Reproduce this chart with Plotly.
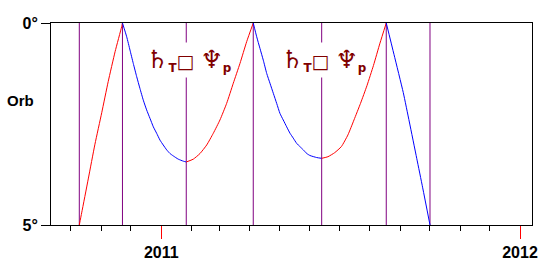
import plotly.graph_objects as go

# ---- data (orb in degrees vs date) ----
# red = applying, blue = separating
seg1_dates = ["2010-10-09 14:00", "2010-10-12", "2010-10-18 17:00", "2010-10-25 12:00",
              "2010-11-01 10:00", "2010-11-08", "2010-11-15", "2010-11-21 17:00", "2010-11-22 12:00"]
seg1_orb = [5.0, 4.70, 3.86, 3.00, 2.22, 1.45, 0.71, 0.09, 0.0]

seg2_dates = ["2010-11-22 12:00", "2010-11-26 19:00", "2010-11-30 04:00", "2010-12-03 12:00",
              "2010-12-07", "2010-12-10 07:00", "2010-12-13 17:00", "2010-12-17 02:00",
              "2010-12-20 12:00", "2010-12-23 22:00", "2010-12-27 07:00", "2010-12-30 17:00",
              "2011-01-03", "2011-01-06 12:00", "2011-01-09 20:00", "2011-01-13 05:00",
              "2011-01-18 07:00", "2011-01-23 10:00", "2011-01-26 10:00"]
seg2_orb = [0.0, 0.34, 0.67, 1.00, 1.33, 1.62, 1.91, 2.15, 2.36, 2.57, 2.73, 2.90,
            3.02, 3.14, 3.23, 3.29, 3.37, 3.42, 3.44]

seg3_dates = ["2011-01-26 10:00", "2011-02-02 14:00", "2011-02-09 10:00", "2011-02-16 05:00",
              "2011-02-22 22:00", "2011-03-01 17:00", "2011-03-08 12:00", "2011-03-15 07:00",
              "2011-03-22 02:00", "2011-03-28 22:00", "2011-04-04 14:00"]
seg3_orb = [3.44, 3.37, 3.23, 3.02, 2.73, 2.40, 1.99, 1.49, 1.00, 0.46, 0.0]

seg4_dates = ["2011-04-04 14:00", "2011-04-08 02:00", "2011-04-11 10:00", "2011-04-14 19:00",
              "2011-04-18 07:00", "2011-04-21 14:00", "2011-04-25", "2011-04-28 10:00",
              "2011-05-01 19:00", "2011-05-05 02:00", "2011-05-08 14:00", "2011-05-12",
              "2011-05-15 07:00", "2011-05-18 19:00", "2011-05-22 02:00", "2011-05-25 12:00",
              "2011-05-29", "2011-06-01 07:00", "2011-06-08 02:00", "2011-06-13 05:00"]
seg4_orb = [0.0, 0.34, 0.63, 0.92, 1.25, 1.49, 1.74, 1.99, 2.24, 2.40, 2.57, 2.73,
            2.85, 2.98, 3.06, 3.14, 3.23, 3.28, 3.33, 3.35]

seg5_dates = ["2011-06-13 05:00", "2011-06-19 14:00", "2011-06-26 10:00", "2011-07-03 05:00",
              "2011-07-09 22:00", "2011-07-16 02:00", "2011-07-22 17:00", "2011-07-29 07:00",
              "2011-08-04 22:00", "2011-08-11 12:00", "2011-08-17 22:00"]
seg5_orb = [3.35, 3.31, 3.21, 3.06, 2.77, 2.40, 1.99, 1.55, 1.05, 0.50, 0.0]

seg6_dates = ["2011-08-17 22:00", "2011-08-25 19:00", "2011-09-04 05:00", "2011-09-10 10:00",
              "2011-09-17 22:00", "2011-09-24", "2011-10-01 10:00"]
seg6_orb = [0.0, 0.78, 1.72, 2.45, 3.35, 4.08, 5.0]

segments = [(seg1_dates, seg1_orb, "red"), (seg2_dates, seg2_orb, "blue"),
            (seg3_dates, seg3_orb, "red"), (seg4_dates, seg4_orb, "blue"),
            (seg5_dates, seg5_orb, "red"), (seg6_dates, seg6_orb, "blue")]

# event dates (orb entry, exact, stations, exit)
event_dates = ["2010-10-09 14:00", "2010-11-22 12:00", "2011-01-26 10:00", "2011-04-04 14:00",
               "2011-06-13 05:00", "2011-08-17 22:00", "2011-10-01 10:00"]

# aspect labels at the stations
label_dates = ["2011-01-26 10:00", "2011-06-13 05:00"]
label_orb = [0.92, 0.92]
label_text = ("<span style='font-size:25px'>♄</span><sub>T</sub>"
              "<span style='font-size:19px'>□</span> "
              "<span style='font-size:25px'>♆</span><sub>p</sub>")

x_range = ["2010-09-10 19:00", "2012-01-13 05:00"]
y_tick_vals = [0, 5]
y_tick_text = ["0°", "5°"]
y_title = "Orb"

FONT = "Liberation Sans, Arial, sans-serif"

fig = go.Figure()
for d in event_dates:
    fig.add_shape(type="line", xref="x", yref="paper", x0=d, x1=d, y0=0, y1=1,
                  line=dict(color="#800080", width=1), layer="below")

for dates, orb, col in segments:
    fig.add_trace(go.Scatter(x=dates, y=orb, mode="lines",
                             line=dict(color=col, width=1, shape="spline", smoothing=0.5),
                             hoverinfo="skip"))

for d, o in zip(label_dates, label_orb):
    fig.add_annotation(x=d, y=o, xref="x", yref="y", text="<b>" + label_text + "</b>",
                       showarrow=False, bgcolor="white", xshift=2, borderpad=2,
                       font=dict(family="DejaVu Sans", size=17, color="#800000"))

fig.add_annotation(x=0, y=1.93, xref="paper", yref="y", text="<b>" + y_title + "</b>",
                   showarrow=False, xanchor="right", xshift=-15,
                   font=dict(family=FONT, size=15, color="black"))

fig.update_layout(
    width=545, height=265,
    margin=dict(l=51, r=13, t=23, b=40, autoexpand=False),
    plot_bgcolor="white", paper_bgcolor="white",
    showlegend=False,
    xaxis=dict(type="date", range=x_range, tick0="2011-01-01", dtick="M12", tickformat="%Y",
               ticks="outside", ticklen=13, tickcolor="red", tickwidth=1, automargin=False,
               showgrid=False, zeroline=False, showline=True, linecolor="black",
               linewidth=1, mirror=True,
               tickfont=dict(family=FONT, size=16, color="black", weight="bold"),
               minor=dict(dtick="M1", tick0="2010-01-01", ticks="outside", ticklen=5,
                          tickcolor="black", tickwidth=1, showgrid=False)),
    yaxis=dict(range=[5, 0], tickvals=y_tick_vals, ticktext=y_tick_text,
               ticks="outside", ticklen=9, tickcolor="black", tickwidth=1, automargin=False,
               showgrid=False, zeroline=False, showline=True, linecolor="black",
               linewidth=1, mirror=True,
               tickfont=dict(family=FONT, size=16, color="black", weight="bold")),
)

fig.write_html("out.html")
